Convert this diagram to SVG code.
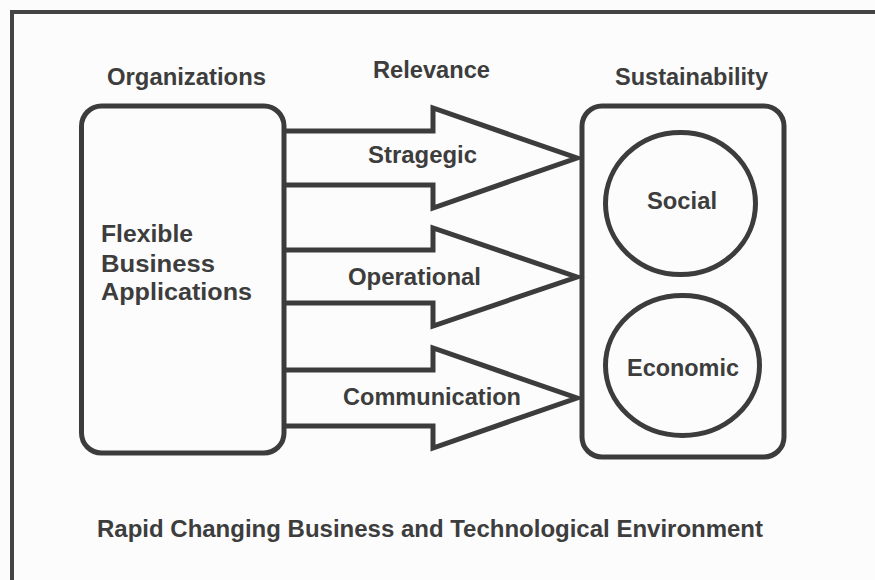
<svg xmlns="http://www.w3.org/2000/svg" width="875" height="580" viewBox="0 0 875 580">
  <style>
    .frame { fill: none; stroke: #444444; stroke-width: 4; }
    .box { fill: none; stroke: #3c3c3c; stroke-width: 5; }
    .ring { fill: none; stroke: #3c3c3c; stroke-width: 5; }
    .arrow { fill: none; stroke: #3c3c3c; stroke-width: 5; stroke-linejoin: miter; stroke-miterlimit: 4; }
    text { font-family: "Liberation Sans", Arial, sans-serif; font-weight: bold; font-size: 23px; fill: #3d3d3d; }
  </style>

  <rect width="875" height="580" fill="#fcfcfc"/>

  <!-- outer frame (top and left edges) -->
  <path class="frame" d="M12 580 V12 H875"/>

  <!-- column headings -->
  <g id="headings">
    <text x="107" y="85" textLength="159" lengthAdjust="spacingAndGlyphs">Organizations</text>
    <text x="373" y="78" textLength="117" lengthAdjust="spacingAndGlyphs">Relevance</text>
    <text x="615" y="85" textLength="153" lengthAdjust="spacingAndGlyphs">Sustainability</text>
  </g>

  <!-- organizations box -->
  <g id="organizations">
    <rect class="box" x="81.5" y="106" width="202.5" height="347" rx="20"/>
    <text x="101" y="242" textLength="92" lengthAdjust="spacingAndGlyphs">Flexible</text>
    <text x="101" y="272" textLength="114" lengthAdjust="spacingAndGlyphs">Business</text>
    <text x="101" y="300" textLength="151" lengthAdjust="spacingAndGlyphs">Applications</text>
  </g>

  <!-- sustainability box -->
  <g id="sustainability">
    <rect class="box" x="582" y="106" width="202" height="351" rx="20"/>
  </g>

  <g id="social">
    <ellipse class="ring" cx="680.5" cy="203.5" rx="75" ry="71"/>
    <text x="647" y="209" textLength="70" lengthAdjust="spacingAndGlyphs">Social</text>
  </g>

  <g id="economic">
    <ellipse class="ring" cx="682.5" cy="365.5" rx="77" ry="70"/>
    <text x="627" y="376" textLength="112" lengthAdjust="spacingAndGlyphs">Economic</text>
  </g>

  <!-- block arrows from the organizations box to the sustainability box -->
  <g id="connectors">
    <g id="strategic">
      <path class="arrow" d="M284 131 H433 V108 L577 158 L433 208 V185 H284"/>
      <text x="368" y="163" textLength="109" lengthAdjust="spacingAndGlyphs">Stragegic</text>
    </g>
    <g id="operational">
      <path class="arrow" d="M284 250 H433 V228 L577 277 L433 326 V303 H284"/>
      <text x="348" y="285" textLength="133" lengthAdjust="spacingAndGlyphs">Operational</text>
    </g>
    <g id="communication">
      <path class="arrow" d="M284 370 H433 V348 L577 398 L433 448 V426 H284"/>
      <text x="343" y="405" textLength="178" lengthAdjust="spacingAndGlyphs">Communication</text>
    </g>
  </g>

  <!-- environment caption -->
  <g id="environment">
    <text x="97" y="537" textLength="666" lengthAdjust="spacingAndGlyphs">Rapid Changing Business and Technological Environment</text>
  </g>
</svg>
